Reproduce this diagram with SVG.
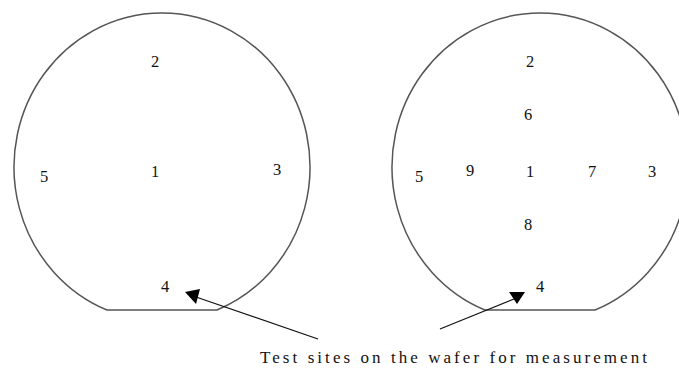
<svg xmlns="http://www.w3.org/2000/svg" width="679" height="377" viewBox="0 0 679 377">
<style>
.wafer{fill:none;stroke:#555;stroke-width:1.5}
.lbl{font-family:"Liberation Serif","Times New Roman",serif;font-size:16.5px;fill:#111;text-anchor:middle}
.arrow{stroke:#111;stroke-width:1.2;fill:none}
.head{fill:#000}
</style>
<g id="wafer-left">
<path class="wafer" d="M107,310 L217,310 A148,154 0 1 0 107,310 Z"/>
<text class="lbl" x="155" y="67">2</text>
<text class="lbl" x="44" y="182">5</text>
<text class="lbl" x="155" y="177">1</text>
<text class="lbl" x="277" y="175">3</text>
<text class="lbl" x="165" y="292">4</text>
</g>
<g id="wafer-right">
<path class="wafer" d="M485,310 L595,310 A148,154 0 1 0 485,310 Z"/>
<text class="lbl" x="530" y="67">2</text>
<text class="lbl" x="528" y="120">6</text>
<text class="lbl" x="419" y="182">5</text>
<text class="lbl" x="470" y="176">9</text>
<text class="lbl" x="530" y="177">1</text>
<text class="lbl" x="592" y="177">7</text>
<text class="lbl" x="652" y="177">3</text>
<text class="lbl" x="528" y="230">8</text>
<text class="lbl" x="540" y="292">4</text>
</g>
<g id="connectors">
<line class="arrow" x1="318" y1="339" x2="196" y2="297"/>
<polygon class="head" points="185,292 200,289 196,304"/>
<line class="arrow" x1="440" y1="329" x2="514" y2="299"/>
<polygon class="head" points="509,292 525,292 517,304"/>
</g>
<g id="caption">
<text x="260" y="363" font-family="'Liberation Serif','Times New Roman',serif" font-size="17" fill="#111" textLength="387" lengthAdjust="spacing">Test sites on the wafer for measurement</text>
</g>
</svg>
